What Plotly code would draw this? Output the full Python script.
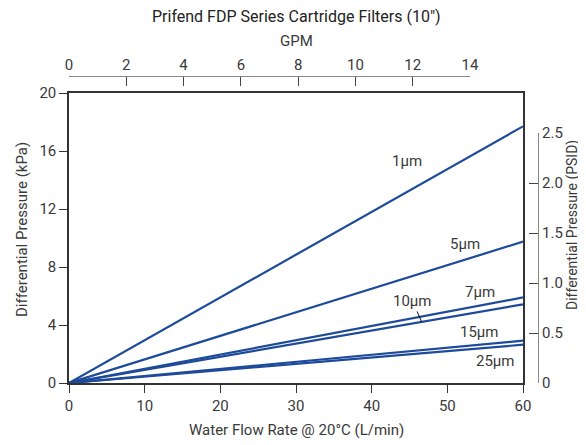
import plotly.graph_objects as go

# ---------------- data ----------------
flow_lpm = [0, 60]                      # Water flow rate (L/min)
dp_1um = [0, 17.7]                       # Differential pressure (kPa)
dp_5um = [0, 9.75]
dp_7um = [0, 5.9]
dp_10um = [0, 5.43]
dp_15um = [0, 2.92]
dp_25um = [0, 2.64]
series_names = ["1µm", "5µm", "7µm", "10µm", "15µm", "25µm"]

kpa_ticks = [0, 4, 8, 12, 16, 20]
lpm_ticks = [0, 10, 20, 30, 40, 50, 60]
gpm_ticks = [0, 2, 4, 6, 8, 10, 12, 14]
psid_ticks = [0, 0.5, 1.0, 1.5, 2.0, 2.5]
psid_tick_text = ["0", "0.5", "1.0", "1.5", "2.0", "2.5"]

LPM_PER_GPM = 3.78541
KPA_PER_PSI = 6.89476

# ---------------- layout geometry ----------------
W, H = 586, 445
OFF = 8  # page body margin
def px(x):
    return (x - OFF) / W
def py(y):
    return (H - (y - OFF)) / H

x0, x1 = px(69), px(523)
y0, y1 = py(383), py(93)
x_max, y_max = 60, 20

BLUE = "#1d4b9a"
TXT = "#3a3a3a"
FONT = "Roboto"
FS = 15

fig = go.Figure()
all_series = [dp_1um, dp_5um, dp_7um, dp_10um, dp_15um, dp_25um]
for name, dp in zip(series_names, all_series):
    fig.add_trace(go.Scatter(x=flow_lpm, y=dp, mode="lines", name=name,
                             line=dict(color=BLUE, width=2.2),
                             showlegend=False, hoverinfo="skip"))

# invisible trace on the secondary (GPM / PSID) axes
fig.add_trace(go.Scatter(x=[v / LPM_PER_GPM for v in flow_lpm],
                         y=[p / KPA_PER_PSI for p in dp_1um],
                         xaxis="x2", yaxis="y2", mode="lines", opacity=0,
                         showlegend=False, hoverinfo="skip"))

gpm_max = gpm_ticks[-1]
psi_max = psid_ticks[-1]
x2_end = x0 + (gpm_max * LPM_PER_GPM / x_max) * (x1 - x0)
y2_end = y0 + (psi_max * KPA_PER_PSI / y_max) * (y1 - y0)

tickfont = dict(family=FONT, size=FS, color=TXT)

fig.update_layout(
    width=W, height=H,
    margin=dict(l=0, r=0, t=0, b=0, autoexpand=False),
    paper_bgcolor="white", plot_bgcolor="rgba(0,0,0,0)",
    font=dict(family=FONT, size=FS, color=TXT),
    xaxis=dict(domain=[x0, x1], range=[0, x_max], tickvals=lpm_ticks,
               showgrid=False, zeroline=False, showline=True, linecolor="#333",
               linewidth=1.5, mirror=True, ticks="outside", ticklen=8,
               tickcolor="#333", tickfont=tickfont, anchor="y", automargin=False),
    yaxis=dict(domain=[y0, y1], range=[0, y_max], tickvals=kpa_ticks,
               showgrid=False, zeroline=False, showline=True, linecolor="#333",
               linewidth=1.5, mirror=True, ticks="outside", ticklen=8,
               tickcolor="#333", tickfont=tickfont, anchor="x", automargin=False),
    xaxis2=dict(domain=[x0, x2_end], range=[0, gpm_max], tickvals=gpm_ticks,
                side="top", anchor="free", position=py(76),
                showgrid=False, zeroline=False, showline=True, linecolor="#888",
                linewidth=1.2, ticks="inside", ticklen=9, tickcolor="#444",
                tickfont=tickfont, automargin=False),
    yaxis2=dict(domain=[y0, y2_end], range=[0, psi_max], tickvals=psid_ticks,
                ticktext=psid_tick_text, side="right", anchor="free",
                position=px(538), showgrid=False, zeroline=False, showline=True,
                linecolor="#888", linewidth=1.2, ticks="inside", ticklen=9,
                tickcolor="#444", tickfont=tickfont, automargin=False),
)

ann = []
def txt(text, x, y, **kw):
    d = dict(text=text, x=x, y=y, showarrow=False, xanchor="center",
             yanchor="middle", font=dict(family=FONT, size=FS, color=TXT))
    d.update(kw)
    ann.append(d)

# titles
txt("Prifend FDP Series Cartridge Filters (10″)", (x0 + x1) / 2, py(17),
    xref="paper", yref="paper", font=dict(family=FONT, size=16, color="#222"))
txt("GPM", (x0 + x1) / 2, py(41), xref="paper", yref="paper")
txt("Water Flow Rate @ 20°C (L/min)", (x0 + x1) / 2, py(430),
    xref="paper", yref="paper")
txt("Differential Pressure (kPa)", px(22), py(230), xref="paper",
    yref="paper", textangle=-90)
txt("Differential Pressure (PSID)", px(572), py(225), xref="paper",
    yref="paper", textangle=-90, font=dict(family=FONT, size=14, color=TXT))

# series labels
txt(series_names[0], 44.7, 15.3, xref="x", yref="y")
txt(series_names[1], 52.3, 9.6, xref="x", yref="y")
txt(series_names[2], 54.3, 6.28, xref="x", yref="y")
txt(series_names[4], 54.3, 3.52, xref="x", yref="y")
txt(series_names[5], 56.3, 1.52, xref="x", yref="y")
lead_x = 46.6
ann.append(dict(text=series_names[3], x=lead_x, y=dp_10um[1] * lead_x / flow_lpm[1],
                xref="x", yref="y", ax=45.4, ay=5.66, axref="x", ayref="y",
                showarrow=True, arrowhead=0, arrowwidth=1, arrowcolor="#111",
                standoff=0, font=dict(family=FONT, size=FS, color=TXT)))

fig.update_layout(annotations=ann)
fig.write_html("out.html")
